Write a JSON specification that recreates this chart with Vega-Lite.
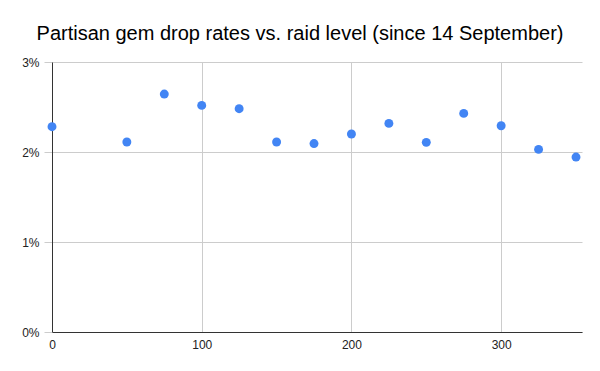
{
  "$schema": "https://vega.github.io/schema/vega-lite/v6.json",
  "width": 530,
  "height": 270,
  "autosize": {"type": "none"},
  "padding": {"left": 52, "top": 62, "right": 18, "bottom": 39},
  "background": "white",
  "title": {
    "text": "Partisan gem drop rates vs. raid level (since 14 September)",
    "font": "Liberation Sans",
    "fontSize": 20,
    "fontWeight": "normal",
    "color": "#000000",
    "anchor": "middle",
    "dx": -17,
    "offset": 12
  },
  "data": {
    "values": [
      {"level": 0, "rate": 0.02281},
      {"level": 50, "rate": 0.02111},
      {"level": 75, "rate": 0.02644},
      {"level": 100, "rate": 0.02518},
      {"level": 125, "rate": 0.02481},
      {"level": 150, "rate": 0.02111},
      {"level": 175, "rate": 0.02094},
      {"level": 200, "rate": 0.02200},
      {"level": 225, "rate": 0.02318},
      {"level": 250, "rate": 0.02107},
      {"level": 275, "rate": 0.02429},
      {"level": 300, "rate": 0.02292},
      {"level": 325, "rate": 0.02029},
      {"level": 350, "rate": 0.01944}
    ]
  },
  "mark": {"type": "circle", "size": 80, "color": "#4285F4", "opacity": 1},
  "encoding": {
    "x": {
      "field": "level",
      "type": "quantitative",
      "scale": {"domain": [0, 354], "nice": false, "zero": true},
      "axis": {
        "title": null,
        "values": [0, 100, 200, 300],
        "grid": true,
        "gridColor": "#cccccc",
        "domainColor": "#333333",
        "ticks": false,
        "labelFlush": false,
        "labelPadding": 7,
        "labelFont": "Liberation Sans",
        "labelFontSize": 12,
        "labelColor": "#222222"
      }
    },
    "y": {
      "field": "rate",
      "type": "quantitative",
      "scale": {"domain": [0, 0.03], "nice": false},
      "axis": {
        "title": null,
        "format": ".0%",
        "values": [0, 0.01, 0.02, 0.03],
        "grid": true,
        "gridColor": "#cccccc",
        "domainColor": "#333333",
        "ticks": true,
        "tickColor": "#cccccc",
        "tickSize": 8,
        "labelFlush": false,
        "labelPadding": 5,
        "labelFont": "Liberation Sans",
        "labelFontSize": 12,
        "labelColor": "#222222"
      }
    }
  },
  "config": {"view": {"stroke": null}}
}
